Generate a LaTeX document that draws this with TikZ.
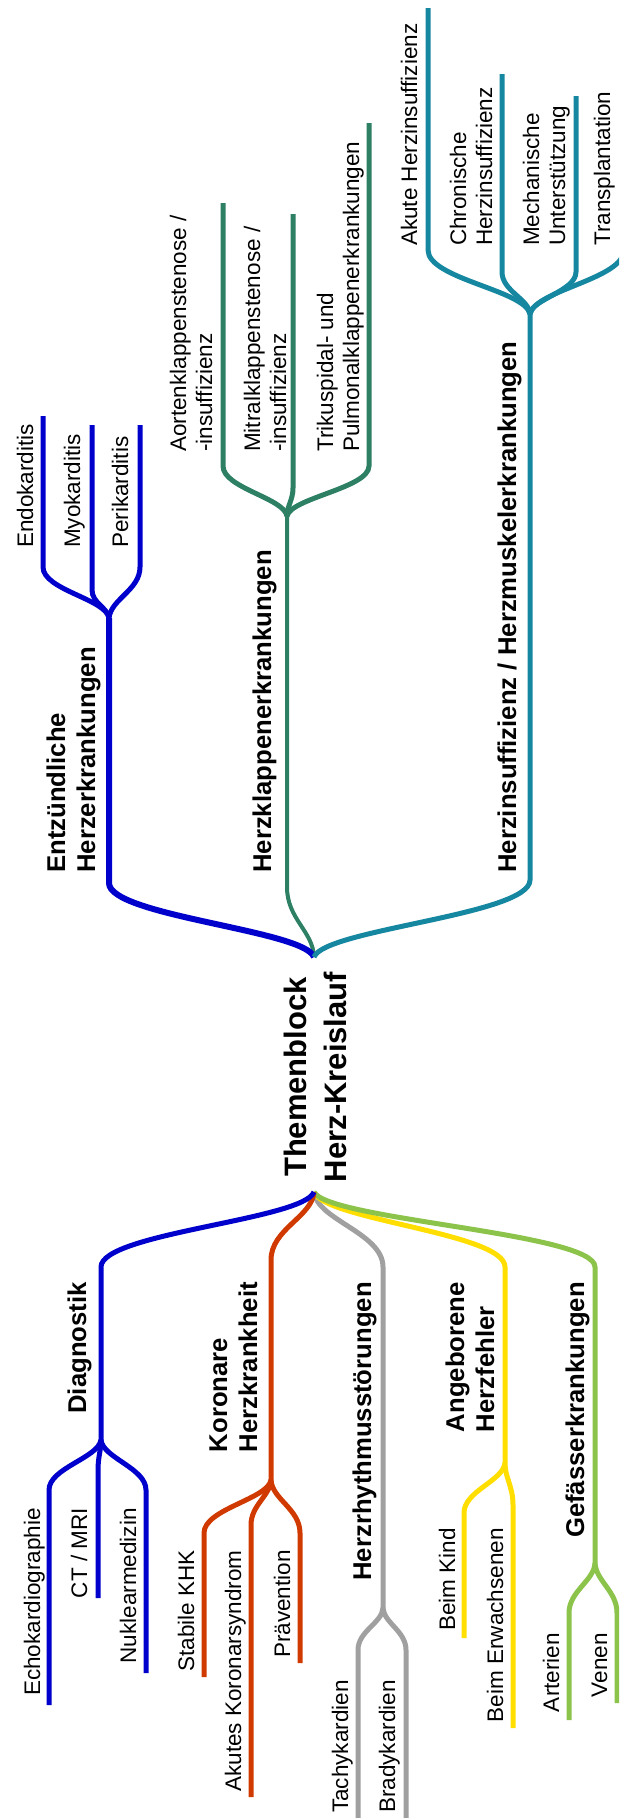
\documentclass[tikz,border=0pt]{standalone}
\usepackage{fontspec}
\setmainfont{Liberation Sans}
\usepackage{tikz}
\usepackage{xcolor}
\usetikzlibrary{positioning, calc}

\definecolor{cBlue}{RGB}{0,0,205}
\definecolor{cValve}{RGB}{46,128,100}
\definecolor{cTeal}{RGB}{22,135,160}
\definecolor{cRed}{RGB}{208,58,0}
\definecolor{cGray}{RGB}{160,160,160}
\definecolor{cYellow}{RGB}{255,222,0}
\definecolor{cLime}{RGB}{140,195,75}

\newcommand{\rootfont}{\fontsize{31}{40}\selectfont\bfseries}
\newcommand{\branchfont}{\fontsize{25.7}{30}\selectfont\bfseries}
\newcommand{\leaffont}{\fontsize{22.5}{26}\selectfont}

\begin{document}
\begin{tikzpicture}[x=1pt, y=-1pt,
  every node/.style={rotate=90, inner sep=0pt, align=left},
  toplabel/.style={anchor=base west},
  botlabel/.style={anchor=base east},
  branch/.style={font=\branchfont},
  leaf/.style={font=\leaffont},
  twig/.style={line width=5pt}]
\useasboundingbox (0,0) rectangle (619,1818);
\clip (0,0) rectangle (619,1818);

\node (root) [font=\rootfont, align=center, anchor=base] at (346,1077) {Themenblock\\Herz-Kreislauf};
\coordinate (rootn) at (314,957);
\coordinate (roots) at (314,1192);

% upper half
\node (entz) [branch, toplabel] at (95,873) {Entzündliche\\Herzerkrankungen};
\node (klappen) [branch, toplabel] at (271,873) {Herzklappenerkrankungen};
\node (insuff) [branch, toplabel] at (516,873) {Herzinsuffizienz / Herzmuskelerkrankungen};

\node (endo) [leaf, toplabel] at (33,548) {Endokarditis};
\node (myo) [leaf, toplabel] at (80,548) {Myokarditis};
\node (peri) [leaf, toplabel] at (128,548) {Perikarditis};
\node (aorten) [leaf, toplabel] at (212,452) {Aortenklappenstenose /\\-insuffizienz};
\node (mitral) [leaf, toplabel] at (286,452) {Mitralklappenstenose /\\-insuffizienz};
\node (trikusp) [leaf, toplabel] at (359,452) {Trikuspidal- und\\Pulmonalklappenerkrankungen};
\node (akut) [leaf, toplabel] at (417,246) {Akute Herzinsuffizienz};
\node (chron) [leaf, toplabel] at (492,246) {Chronische\\Herzinsuffizienz};
\node (mech) [leaf, toplabel] at (565,246) {Mechanische\\Unterstützung};
\node (transpl) [leaf, toplabel] at (610,246) {Transplantation};

\coordinate (entzbend) at (109,883);
\coordinate (entzsplit) at (109,618);
\coordinate (endobend) at (43,567);
\coordinate (endotip) at (43,416);
\coordinate (myobend) at (92,590);
\coordinate (myotip) at (92,425);
\coordinate (peribend) at (140,567);
\coordinate (peritip) at (140,425);

\coordinate (klappenbend) at (287,887);
\coordinate (klappensplit) at (287,516);
\coordinate (aortenbend) at (223,466);
\coordinate (aortentip) at (223,203);
\coordinate (mitralbend) at (293,488);
\coordinate (mitraltip) at (293,214);
\coordinate (trikuspbend) at (369,466);
\coordinate (trikusptip) at (369,123);

\coordinate (insuffbend) at (530,880);
\coordinate (insuffsplit) at (530,314);
\coordinate (akutbend) at (428,250);
\coordinate (akuttip) at (428,8);
\coordinate (chronbend) at (502,272);
\coordinate (chrontip) at (502,74);
\coordinate (mechbend) at (576,272);
\coordinate (mechtip) at (576,96);
\coordinate (transplbend) at (624,250);
\coordinate (transpltip) at (624,88);

\draw[twig, cValve, line width=4pt] (rootn) .. controls +(-1,-26) and +(0,32) .. (klappenbend) -- (klappensplit);
\draw[twig, cBlue, line width=6pt] (rootn) .. controls +(-10,-27) and +(0,33) .. (entzbend) -- (entzsplit);
\draw[twig, cTeal] (rootn) .. controls +(11,-28) and +(0,35) .. (insuffbend) -- (insuffsplit);

\draw[twig, cBlue] (entzsplit) .. controls +(-3,-19) and +(0,23) .. (endobend) -- (endotip);
\draw[twig, cBlue] (entzsplit) .. controls +(-1,-10) and +(0,13) .. (myobend) -- (myotip);
\draw[twig, cBlue] (entzsplit) .. controls +(2,-19) and +(0,23) .. (peribend) -- (peritip);

\draw[twig, cValve] (klappensplit) .. controls +(-3,-18) and +(0,22) .. (aortenbend) -- (aortentip);
\draw[twig, cValve] (klappensplit) .. controls +(0,-10) and +(0,12) .. (mitralbend) -- (mitraltip);
\draw[twig, cValve] (klappensplit) .. controls +(4,-18) and +(0,22) .. (trikuspbend) -- (trikusptip);

\draw[twig, cTeal] (insuffsplit) .. controls +(-5,-24) and +(0,29) .. (akutbend) -- (akuttip);
\draw[twig, cTeal] (insuffsplit) .. controls +(-1,-15) and +(0,19) .. (chronbend) -- (chrontip);
\draw[twig, cTeal] (insuffsplit) .. controls +(2,-15) and +(0,19) .. (mechbend) -- (mechtip);
\draw[twig, cTeal] (insuffsplit) .. controls +(5,-24) and +(0,29) .. (transplbend) -- (transpltip);

% lower half
\node (diag) [branch, botlabel] at (86,1282) {Diagnostik};
\node (khk) [branch, botlabel] at (257,1282) {Koronare\\Herzkrankheit};
\node (rhythm) [branch, botlabel] at (371,1282) {Herzrhythmusstörungen};
\node (angeb) [branch, botlabel] at (494,1282) {Angeborene\\Herzfehler};
\node (gefaess) [branch, botlabel] at (584,1282) {Gefässerkrankungen};

\node (echo) [leaf, botlabel] at (40,1508) {Echokardiographie};
\node (ctmri) [leaf, botlabel] at (87,1508) {CT / MRI};
\node (nukl) [leaf, botlabel] at (136,1508) {Nuklearmedizin};
\node (stabil) [leaf, botlabel] at (194,1550) {Stabile KHK};
\node (acs) [leaf, botlabel] at (241,1550) {Akutes Koronarsyndrom};
\node (praev) [leaf, botlabel] at (290,1550) {Prävention};
\node (tachy) [leaf, botlabel] at (348,1680) {Tachykardien};
\node (brady) [leaf, botlabel] at (395,1680) {Bradykardien};
\node (kind) [leaf, botlabel] at (455,1528) {Beim Kind};
\node (erw) [leaf, botlabel] at (503,1528) {Beim Erwachsenen};
\node (arterien) [leaf, botlabel] at (559,1633) {Arterien};
\node (venen) [leaf, botlabel] at (607,1633) {Venen};

\coordinate (diagbend) at (101,1267);
\coordinate (diagsplit) at (101,1440);
\coordinate (echobend) at (49,1490);
\coordinate (echotip) at (49,1705);
\coordinate (ctmribend) at (98,1470);
\coordinate (ctmritip) at (98,1598);
\coordinate (nuklbend) at (146,1490);
\coordinate (nukltip) at (146,1673);

\coordinate (khkbend) at (271,1260);
\coordinate (khksplit) at (271,1480);
\coordinate (stabilbend) at (204,1533);
\coordinate (stabiltip) at (204,1677);
\coordinate (acsbend) at (251,1525);
\coordinate (acstip) at (251,1797);
\coordinate (praevbend) at (300,1533);
\coordinate (praevtip) at (300,1663);

\coordinate (rhythmbend) at (383,1267);
\coordinate (rhythmsplit) at (383,1608);
\coordinate (tachybend) at (358,1650);
\coordinate (tachytip) at (358,1830);
\coordinate (bradybend) at (406,1650);
\coordinate (bradytip) at (406,1830);

\coordinate (angebbend) at (505,1267);
\coordinate (angebsplit) at (505,1463);
\coordinate (kindbend) at (464,1513);
\coordinate (kindtip) at (464,1638);
\coordinate (erwbend) at (513,1505);
\coordinate (erwtip) at (513,1728);

\coordinate (gefaessbend) at (595,1267);
\coordinate (gefaesssplit) at (595,1563);
\coordinate (arterienbend) at (569,1613);
\coordinate (arterientip) at (569,1720);
\coordinate (venenbend) at (617,1613);
\coordinate (venentip) at (617,1703);

\draw[twig, cGray] (roots) .. controls +(3,28) and +(0,-34) .. (rhythmbend) -- (rhythmsplit);
\draw[twig, cYellow] (roots) .. controls +(10,28) and +(0,-34) .. (angebbend) -- (angebsplit);
\draw[twig, cLime] (roots) .. controls +(14,28) and +(0,-34) .. (gefaessbend) -- (gefaesssplit);
\draw[twig, cRed] (roots) .. controls +(-2,25) and +(0,-31) .. (khkbend) -- (khksplit);
\draw[twig, cBlue] (roots) .. controls +(-11,28) and +(0,-34) .. (diagbend) -- (diagsplit);

\draw[twig, cBlue] (diagsplit) .. controls +(-3,18) and +(0,-22) .. (echobend) -- (echotip);
\draw[twig, cBlue] (diagsplit) .. controls +(0,10) and +(0,-13) .. (ctmribend) -- (ctmritip);
\draw[twig, cBlue] (diagsplit) .. controls +(2,18) and +(0,-22) .. (nuklbend) -- (nukltip);

\draw[twig, cRed] (khksplit) .. controls +(-3,19) and +(0,-24) .. (stabilbend) -- (stabiltip);
\draw[twig, cRed] (khksplit) .. controls +(-1,16) and +(0,-20) .. (acsbend) -- (acstip);
\draw[twig, cRed] (khksplit) .. controls +(1,19) and +(0,-24) .. (praevbend) -- (praevtip);

\draw[twig, cGray] (rhythmsplit) .. controls +(-1,15) and +(0,-19) .. (tachybend) -- (tachytip);
\draw[twig, cGray] (rhythmsplit) .. controls +(1,15) and +(0,-19) .. (bradybend) -- (bradytip);

\draw[twig, cYellow] (angebsplit) .. controls +(-2,18) and +(0,-22) .. (kindbend) -- (kindtip);
\draw[twig, cYellow] (angebsplit) .. controls +(0,15) and +(0,-19) .. (erwbend) -- (erwtip);

\draw[twig, cLime] (gefaesssplit) .. controls +(-1,18) and +(0,-22) .. (arterienbend) -- (arterientip);
\draw[twig, cLime] (gefaesssplit) .. controls +(1,18) and +(0,-22) .. (venenbend) -- (venentip);
\end{tikzpicture}
\end{document}
